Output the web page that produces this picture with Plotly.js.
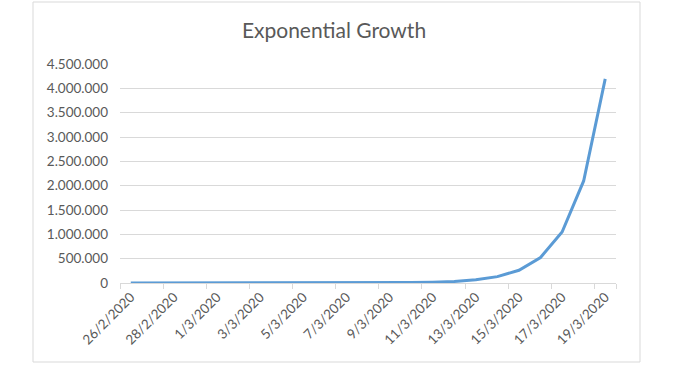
<!DOCTYPE html>
<html>
<head>
<meta charset="utf-8">
<script src="https://cdn.plot.ly/plotly-3.0.1.min.js"></script>
<style>
html,body{margin:0;padding:0;background:#fff;}
#chart{width:674px;height:371px;}
</style>
</head>
<body>
<div id="chart"></div>
<script>
const dates = ["26/2/2020","27/2/2020","28/2/2020","29/2/2020","1/3/2020","2/3/2020","3/3/2020","4/3/2020","5/3/2020","6/3/2020","7/3/2020","8/3/2020","9/3/2020","10/3/2020","11/3/2020","12/3/2020","13/3/2020","14/3/2020","15/3/2020","16/3/2020","17/3/2020","18/3/2020","19/3/2020"];
const values = [1,2,4,8,16,32,64,128,256,512,1024,2048,4096,8192,16384,32768,65536,131072,262144,524288,1048576,2097152,4194304];
const tickLabels = ["26/2/2020","28/2/2020","1/3/2020","3/3/2020","5/3/2020","7/3/2020","9/3/2020","11/3/2020","13/3/2020","15/3/2020","17/3/2020","19/3/2020"];
const yTicks = [0,500000,1000000,1500000,2000000,2500000,3000000,3500000,4000000,4500000];

const font = "Lato, 'Open Sans', sans-serif";
const trace = {
  x: dates, y: values, type: "scatter", mode: "lines",
  line: {color: "#5b9bd5", width: 3}, hoverinfo: "x+y"
};
const L = 120, R = 616, T = 64, B = 283;
const W = R - L, H = B - T;
const layout = {
  width: 674, height: 371,
  margin: {l: L, r: 674 - R, t: T, b: 371 - B, pad: 0},
  paper_bgcolor: "#fff", plot_bgcolor: "#fff",
  separators: ",.",
  showlegend: false,
  font: {family: font, color: "#595959", size: 13},
  title: {text: "Exponential Growth", x: 334/674, xref: "container", xanchor: "center",
          y: 1 - 31/371, yref: "container", yanchor: "middle",
          font: {family: font, size: 21, color: "#595959"}},
  xaxis: {
    type: "category", range: [-0.5, dates.length - 0.5],
    tickmode: "array", tickvals: tickLabels, ticktext: tickLabels,
    tickson: "boundaries", ticks: "outside", ticklen: 5, tickcolor: "#d9d9d9",
    showgrid: false, showline: true, linecolor: "#d9d9d9", linewidth: 1,
    tickangle: -45, tickfont: {family: font, size: 13.5, color: "#595959"},
    zeroline: false, fixedrange: true
  },
  yaxis: {
    range: [0, 4500000], tickmode: "array", tickvals: yTicks,
    tickformat: ",d", showgrid: true, gridcolor: "#d9d9d9", gridwidth: 1,
    zeroline: false, showline: false, ticks: "", ticklabelstandoff: 11,
    tickfont: {family: font, size: 13.5, color: "#595959"}, fixedrange: true
  },
  shapes: [{
    type: "rect", xref: "paper", yref: "paper",
    x0: (33 - L)/W, x1: (640 - L)/W, y0: (B - 362)/H, y1: (B - 2)/H,
    line: {color: "#d9d9d9", width: 1}, fillcolor: "rgba(0,0,0,0)", layer: "below"
  }]
};
Plotly.newPlot("chart", [trace], layout, {displayModeBar: false, staticPlot: true});
</script>
</body>
</html>
